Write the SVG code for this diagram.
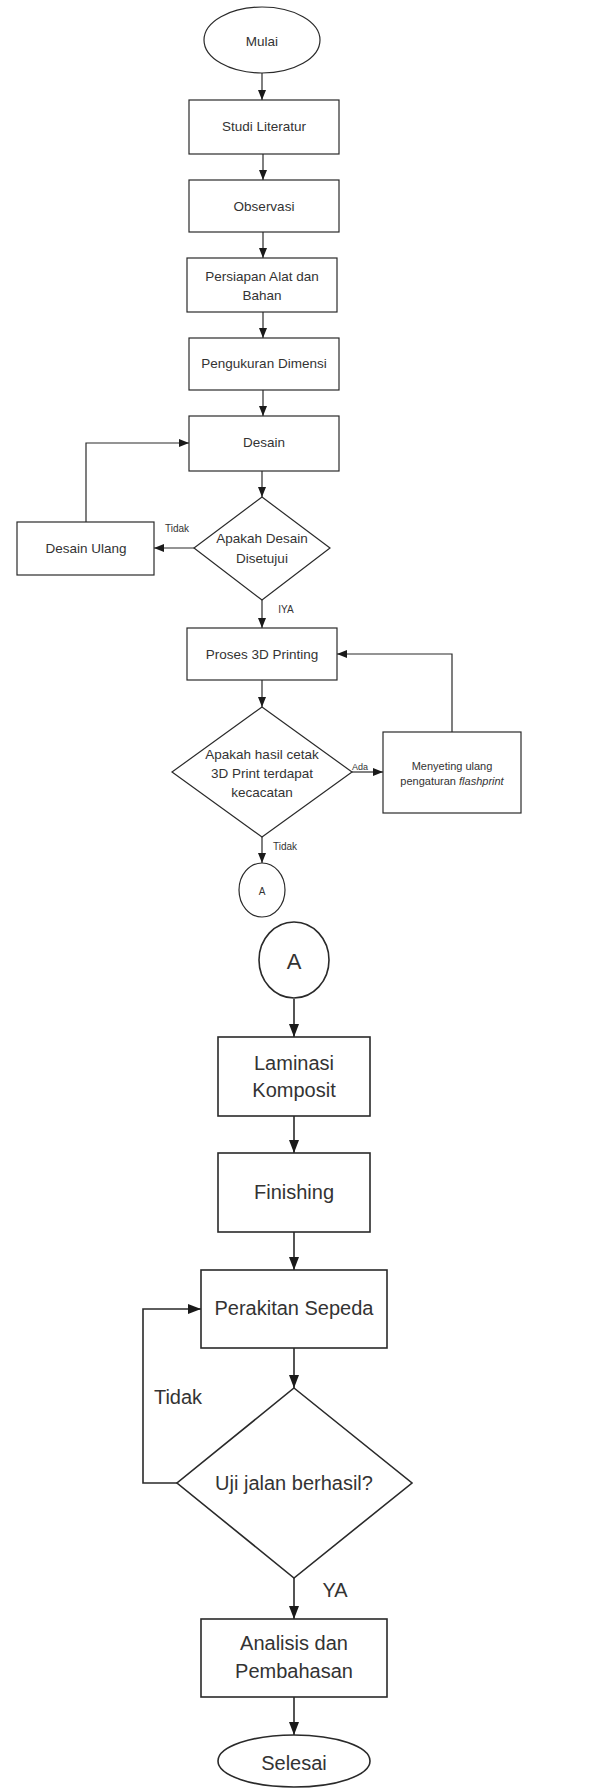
<svg xmlns="http://www.w3.org/2000/svg" width="602" height="1789" viewBox="0 0 602 1789">
<style>
.s{fill:#fff;stroke:#2a2a2a;stroke-width:1.2}
.b{fill:#fff;stroke:#2a2a2a;stroke-width:1.6}
.c{fill:none;stroke:#2a2a2a;stroke-width:1.2}
.cb{fill:none;stroke:#2a2a2a;stroke-width:1.6}
text{font-family:"Liberation Sans",Arial,sans-serif;fill:#333;text-anchor:middle;dominant-baseline:central}
.t{font-size:13.5px}
.l{font-size:10px}
.big{font-size:20px}
</style>
<defs>
<marker id="a" markerUnits="userSpaceOnUse" markerWidth="10" markerHeight="10" viewBox="0 0 10 10" refX="10" refY="5" orient="auto"><path d="M0,1 L10,5 L0,9 Z" fill="#1a1a1a"/></marker>
<marker id="ab" markerUnits="userSpaceOnUse" markerWidth="13" markerHeight="12" viewBox="0 0 13 12" refX="13" refY="6" orient="auto"><path d="M0,1 L13,6 L0,11 Z" fill="#1a1a1a"/></marker>
</defs>
<g id="connectors">
<line class="c" x1="262" y1="73" x2="262" y2="100" marker-end="url(#a)"/>
<line class="c" x1="263" y1="154" x2="263" y2="180" marker-end="url(#a)"/>
<line class="c" x1="263" y1="232" x2="263" y2="258" marker-end="url(#a)"/>
<line class="c" x1="263" y1="312" x2="263" y2="338" marker-end="url(#a)"/>
<line class="c" x1="263" y1="390" x2="263" y2="416" marker-end="url(#a)"/>
<line class="c" x1="262" y1="471" x2="262" y2="497" marker-end="url(#a)"/>
<line class="c" x1="194" y1="548" x2="154" y2="548" marker-end="url(#a)"/>
<polyline class="c" points="86,522 86,443 189,443" marker-end="url(#a)"/>
<line class="c" x1="262" y1="600" x2="262" y2="628" marker-end="url(#a)"/>
<line class="c" x1="262" y1="680" x2="262" y2="707" marker-end="url(#a)"/>
<line class="c" x1="352" y1="772" x2="383" y2="772" marker-end="url(#a)"/>
<polyline class="c" points="452,732 452,654 337,654" marker-end="url(#a)"/>
<line class="c" x1="262" y1="837" x2="262" y2="863" marker-end="url(#a)"/>
<line class="cb" x1="294" y1="999" x2="294" y2="1037" marker-end="url(#ab)"/>
<line class="cb" x1="294" y1="1116" x2="294" y2="1153" marker-end="url(#ab)"/>
<line class="cb" x1="294" y1="1232" x2="294" y2="1270" marker-end="url(#ab)"/>
<line class="cb" x1="294" y1="1348" x2="294" y2="1388" marker-end="url(#ab)"/>
<polyline class="cb" points="177,1483 143,1483 143,1309 201,1309" marker-end="url(#ab)"/>
<line class="cb" x1="294" y1="1578" x2="294" y2="1619" marker-end="url(#ab)"/>
<line class="cb" x1="294" y1="1697" x2="294" y2="1735" marker-end="url(#ab)"/>
<text class="l" x="177" y="528">Tidak</text>
<text class="l" x="286" y="609">IYA</text>
<text class="l" x="360" y="767" style="font-size:9px">Ada</text>
<text class="l" x="285" y="846">Tidak</text>
<text class="big" x="178" y="1397">Tidak</text>
<text class="big" x="335" y="1590">YA</text>
</g>
<g id="mulai"><ellipse class="s" cx="262" cy="40" rx="58" ry="33"/><text class="t" x="262" y="41">Mulai</text></g>
<g id="studi"><rect class="s" x="189" y="100" width="150" height="54"/><text class="t" x="264" y="126">Studi Literatur</text></g>
<g id="observasi"><rect class="s" x="189" y="180" width="150" height="52"/><text class="t" x="264" y="206">Observasi</text></g>
<g id="persiapan"><rect class="s" x="187" y="258" width="150" height="54"/><text class="t" x="262" y="276">Persiapan Alat dan</text><text class="t" x="262" y="295">Bahan</text></g>
<g id="pengukuran"><rect class="s" x="189" y="338" width="150" height="52"/><text class="t" x="264" y="363">Pengukuran Dimensi</text></g>
<g id="desain"><rect class="s" x="189" y="416" width="150" height="55"/><text class="t" x="264" y="442">Desain</text></g>
<g id="cek-desain"><polygon class="s" points="262,497 330,548 262,600 194,548"/><text class="t" x="262" y="538">Apakah Desain</text><text class="t" x="262" y="558">Disetujui</text></g>
<g id="desain-ulang"><rect class="s" x="17" y="522" width="137" height="53"/><text class="t" x="86" y="548">Desain Ulang</text></g>
<g id="proses"><rect class="s" x="187" y="628" width="150" height="52"/><text class="t" x="262" y="654">Proses 3D Printing</text></g>
<g id="cek-print"><polygon class="s" points="262,707 352,772 262,837 172,772"/><text class="t" x="262" y="754">Apakah hasil cetak</text><text class="t" x="262" y="773">3D Print terdapat</text><text class="t" x="262" y="792">kecacatan</text></g>
<g id="menyeting"><rect class="s" x="383" y="732" width="138" height="81"/><text x="452" y="766" style="font-size:11px">Menyeting ulang</text><text x="452" y="781" style="font-size:11px">pengaturan <tspan font-style="italic">flashprint</tspan></text></g>
<g id="konektor-a1"><ellipse class="s" cx="262" cy="890" rx="23" ry="27"/><text x="262" y="891" style="font-size:10px">A</text></g>
<g id="konektor-a2"><ellipse class="b" cx="294" cy="960" rx="35" ry="38"/><text class="big" x="294" y="961" style="font-size:22px">A</text></g>
<g id="laminasi"><rect class="b" x="218" y="1037" width="152" height="79"/><text class="big" x="294" y="1063">Laminasi</text><text class="big" x="294" y="1090">Komposit</text></g>
<g id="finishing"><rect class="b" x="218" y="1153" width="152" height="79"/><text class="big" x="294" y="1192">Finishing</text></g>
<g id="perakitan"><rect class="b" x="201" y="1270" width="186" height="78"/><text class="big" x="294" y="1308">Perakitan Sepeda</text></g>
<g id="uji-jalan"><polygon class="b" points="294,1388 412,1483 294,1578 177,1483"/><text class="big" x="294" y="1483">Uji jalan berhasil?</text></g>
<g id="analisis"><rect class="b" x="201" y="1619" width="186" height="78"/><text class="big" x="294" y="1643">Analisis dan</text><text class="big" x="294" y="1671">Pembahasan</text></g>
<g id="selesai"><ellipse class="b" cx="294" cy="1761" rx="76" ry="26"/><text class="big" x="294" y="1763">Selesai</text></g>
</svg>
